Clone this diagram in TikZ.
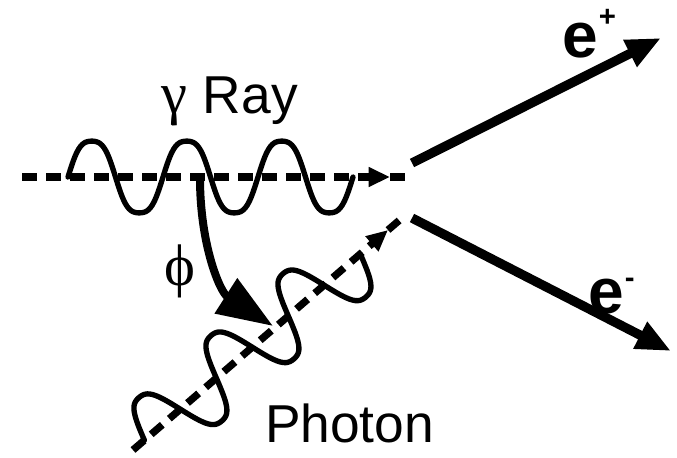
\documentclass[tikz,border=0pt]{standalone}
\usepackage{fontspec}
\setmainfont{Liberation Sans}
\newfontfamily\grk{Liberation Serif}
\usetikzlibrary{arrows.meta}

\begin{document}
\begin{tikzpicture}[x=0.75pt, y=-0.75pt, line join=round,
    wave/.style={line width=4pt, line cap=round},
    ray/.style={line width=5.5pt, dash pattern=on 11pt off 7pt},
    tip/.style={-{Triangle[length=16pt,width=14pt]}},
    track/.style={line width=7pt, -{Triangle[length=26pt,width=21pt]}},
    turn/.style={line width=6pt, -{Triangle[length=42pt,width=30pt]}},
    lbl/.style={inner sep=0pt, outer sep=0pt, anchor=base west}]
  \useasboundingbox (0,0) rectangle (677,457);
  % gamma ray, straight in
  \coordinate (gs) at (22,177);
  \coordinate (gt) at (390,177);
  \coordinate (ge) at (405,177);
  \draw[ray, tip] (gs) -- (gt);
  \draw[ray] (gt) -- (ge);
  \begin{scope}[shift={(68,177)}]
    \draw[wave] plot[domain=0:285, samples=160, smooth]
      (\x, {-39*(sin(\x/95*360)+0.08*sin(3*\x/95*360))});
  \end{scope}
  \node[lbl] (gray) at (161,113) {{\fontsize{44}{44}\selectfont\grk γ}\hspace{12pt}\fontsize{40}{40}\selectfont Ray};
  % photon, coming in at an angle
  \coordinate (ps) at (133,450);
  \coordinate (pt) at (388,230);
  \coordinate (pe) at (402,218);
  \draw[ray, tip] (ps) -- (pt);
  \draw[ray] (pt) -- (pe);
  \begin{scope}[shift={(144.4,440.2)}, rotate=40.7]
    \draw[wave] plot[domain=0:285, samples=160, smooth]
      (\x, {-39*(sin(\x/95*360)+0.08*sin(3*\x/95*360))});
  \end{scope}
  \node[lbl] (photon) at (265,442) {\fontsize{40}{40}\selectfont Photon};
  % angle between the two
  \coordinate (ks) at (200,178);
  \coordinate (kt) at (273,326);
  \draw[turn] (ks) .. controls (200,245) and (220,292) .. (kt);
  \node[inner sep=0pt] (phi) at (180,271) {\fontsize{44}{44}\selectfont\grk ϕ};
  % the pair
  \coordinate (ep0) at (412,163);
  \coordinate (ep1) at (661,38);
  \coordinate (en0) at (412,218);
  \coordinate (en1) at (671,351);
  \draw[track] (ep0) -- (ep1);
  \draw[track] (en0) -- (en1);
  \node[lbl] (epos) at (562,57) {\fontsize{48}{48}\selectfont\bfseries e\hspace{1pt}\raisebox{23pt}{\fontsize{22}{22}\selectfont +}};
  \node[lbl] (eneg) at (588,313) {\fontsize{48}{48}\selectfont\bfseries e\hspace{1pt}\raisebox{19pt}{\fontsize{22}{22}\selectfont -}};
\end{tikzpicture}
\end{document}
